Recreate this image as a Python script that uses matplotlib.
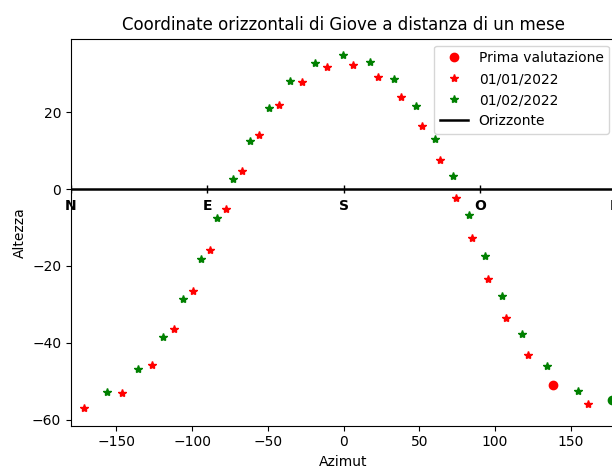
import numpy as np
import matplotlib
matplotlib.use("Agg")
import matplotlib.pyplot as plt

# coordinate (azimut, altezza)
az_gen = [-171.2, -146.5, -126.5, -111.8, -99.5, -88.0, -77.7, -67.1, -55.7, -42.5,
          -27.7, -11.2, 6.1, 22.8, 37.8, 51.7, 63.8, 74.3, 84.9, 95.4, 107.6, 122.1, 161.7]
alt_gen = [-56.9, -53.2, -45.9, -36.4, -26.4, -15.8, -5.2, 4.7, 14.1, 22.0,
           28.0, 31.7, 32.3, 29.3, 24.1, 16.5, 7.7, -2.4, -12.6, -23.4, -33.6, -43.3, -56.0]

az_feb = [-156.2, -135.8, -119.1, -105.9, -94.0, -83.7, -72.9, -61.6, -49.1, -35.2,
          -18.5, -0.5, 17.6, 33.2, 48.2, 60.5, 72.6, 83.1, 93.3, 104.7, 117.9, 134.2, 154.9]
alt_feb = [-52.7, -46.9, -38.5, -28.6, -18.2, -7.6, 2.7, 12.6, 21.2, 28.3,
           33.0, 34.9, 33.2, 28.8, 21.7, 13.1, 3.5, -6.8, -17.3, -27.8, -37.8, -46.0, -52.5]

prima_az, prima_alt = 138.6, -50.9
feb_first_az, feb_first_alt = 177.5, -54.9

punti_cardinali = ["N", "E", "S", "O", "N"]
az_cardinali = [-180, -90, 0, 90, 180]

fig = plt.figure(figsize=(6.12, 4.69), dpi=100)
ax = fig.add_axes([71/612, 43.3/469, 545/612, 387/469])

ax.plot(prima_az, prima_alt, 'o', color='r', label="Prima valutazione")
ax.plot(az_gen, alt_gen, '*', color='r', label="01/01/2022")
ax.plot(az_feb, alt_feb, '*', color='g', label="01/02/2022")
ax.plot(feb_first_az, feb_first_alt, 'o', color='g')
ax.plot([-180, 180], [0, 0], '-k', lw=1.8, label="Orizzonte")
ax.plot(az_cardinali, np.zeros(len(az_cardinali)), '|k')

for x, s in zip(az_cardinali, punti_cardinali):
    ax.text(x, -4.4, s, ha='center', va='center', fontweight='bold', fontsize=10)

ax.set_xlim(-180, 180)
ax.set_ylim(-61.6, 39.2)
ax.set_xticks([-150, -100, -50, 0, 50, 100, 150])
ax.set_yticks([-60, -40, -20, 0, 20])
ax.set_title("Coordinate orizzontali di Giove a distanza di un mese")
ax.set_xlabel("Azimut")
ax.set_ylabel("Altezza")
ax.legend(loc='upper right')

fig.savefig("out.png", dpi=100)
